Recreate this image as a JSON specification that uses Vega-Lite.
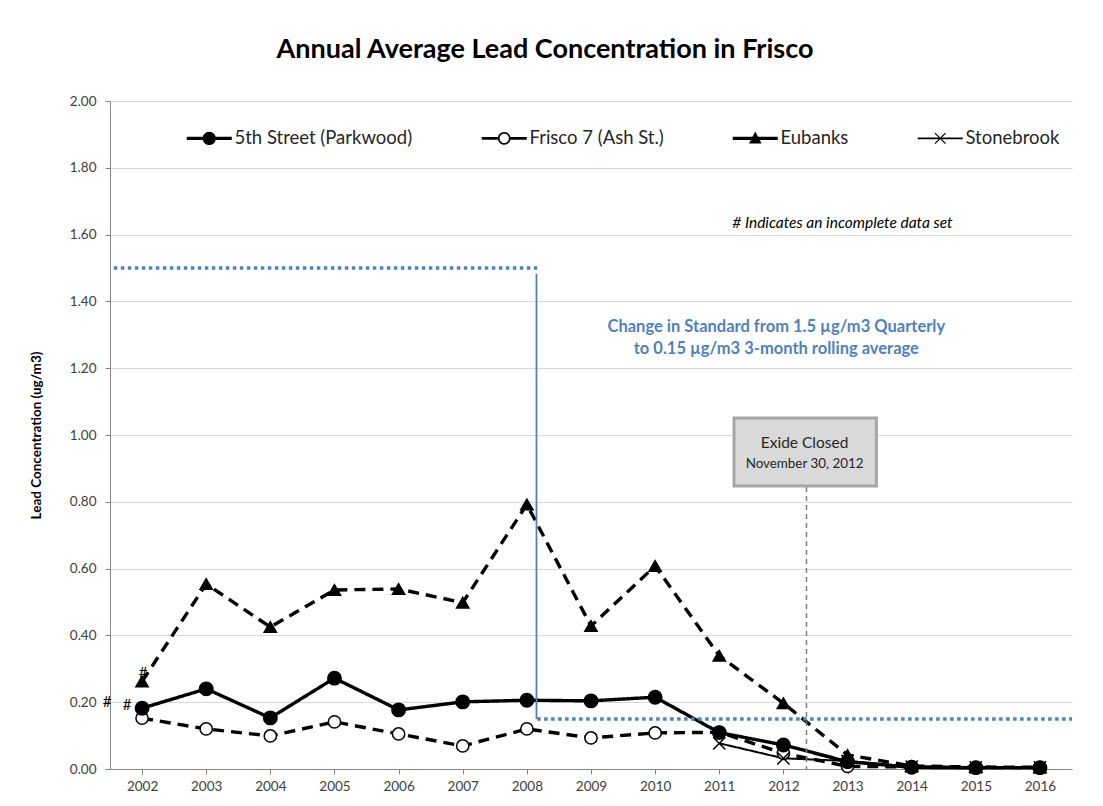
{
  "$schema": "https://vega.github.io/schema/vega-lite/v6.json",
  "width": 962,
  "height": 668,
  "autosize": {"type": "none"},
  "padding": {"left": 110, "top": 101, "right": 31, "bottom": 37},
  "background": "white",
  "title": {
    "text": "Annual Average Lead Concentration in Frisco",
    "font": "Lato",
    "fontSize": 27,
    "fontWeight": "bold",
    "color": "#000000",
    "anchor": "middle",
    "dx": -46,
    "offset": 30
  },
  "config": {
    "font": "Lato",
    "view": {"stroke": null},
    "axisX": {
      "tickBand": "extent",
      "grid": false,
      "domainColor": "#868686",
      "tickColor": "#868686",
      "tickSize": 5,
      "labelFontSize": 13.5,
      "labelColor": "#404040",
      "labelPadding": 5,
      "labelAngle": 0
    },
    "axisY": {
      "gridColor": "#d9d9d9",
      "domainColor": "#868686",
      "tickColor": "#868686",
      "tickSize": 5,
      "labelFontSize": 13.5,
      "labelColor": "#404040",
      "labelPadding": 9,
      "titleFontSize": 13.5,
      "titleFontWeight": "bold",
      "titleColor": "#000000",
      "titlePadding": 26
    }
  },
  "resolve": {"scale": {"x": "independent"}},
  "layer": [
    {
      "data": {
        "values": [
          {"year": "2002", "series": "Frisco 7 (Ash St.)", "value": 0.152},
          {"year": "2003", "series": "Frisco 7 (Ash St.)", "value": 0.120},
          {"year": "2004", "series": "Frisco 7 (Ash St.)", "value": 0.099},
          {"year": "2005", "series": "Frisco 7 (Ash St.)", "value": 0.141},
          {"year": "2006", "series": "Frisco 7 (Ash St.)", "value": 0.105},
          {"year": "2007", "series": "Frisco 7 (Ash St.)", "value": 0.069},
          {"year": "2008", "series": "Frisco 7 (Ash St.)", "value": 0.120},
          {"year": "2009", "series": "Frisco 7 (Ash St.)", "value": 0.093},
          {"year": "2010", "series": "Frisco 7 (Ash St.)", "value": 0.108},
          {"year": "2011", "series": "Frisco 7 (Ash St.)", "value": 0.110},
          {"year": "2012", "series": "Frisco 7 (Ash St.)", "value": 0.047},
          {"year": "2013", "series": "Frisco 7 (Ash St.)", "value": 0.008},
          {"year": "2014", "series": "Frisco 7 (Ash St.)", "value": 0.006},
          {"year": "2015", "series": "Frisco 7 (Ash St.)", "value": 0.004},
          {"year": "2016", "series": "Frisco 7 (Ash St.)", "value": 0.004},
          {"year": "2002", "series": "Eubanks", "value": 0.262},
          {"year": "2003", "series": "Eubanks", "value": 0.554},
          {"year": "2004", "series": "Eubanks", "value": 0.425},
          {"year": "2005", "series": "Eubanks", "value": 0.536},
          {"year": "2006", "series": "Eubanks", "value": 0.539},
          {"year": "2007", "series": "Eubanks", "value": 0.498},
          {"year": "2008", "series": "Eubanks", "value": 0.792},
          {"year": "2009", "series": "Eubanks", "value": 0.428},
          {"year": "2010", "series": "Eubanks", "value": 0.608},
          {"year": "2011", "series": "Eubanks", "value": 0.339},
          {"year": "2012", "series": "Eubanks", "value": 0.197},
          {"year": "2013", "series": "Eubanks", "value": 0.042},
          {"year": "2014", "series": "Eubanks", "value": 0.009},
          {"year": "2015", "series": "Eubanks", "value": 0.006},
          {"year": "2016", "series": "Eubanks", "value": 0.005},
          {"year": "2011", "series": "Stonebrook", "value": 0.077},
          {"year": "2012", "series": "Stonebrook", "value": 0.032},
          {"year": "2013", "series": "Stonebrook", "value": 0.024},
          {"year": "2014", "series": "Stonebrook", "value": 0.007},
          {"year": "2015", "series": "Stonebrook", "value": 0.005},
          {"year": "2016", "series": "Stonebrook", "value": 0.005},
          {"year": "2002", "series": "5th Street (Parkwood)", "value": 0.182},
          {"year": "2003", "series": "5th Street (Parkwood)", "value": 0.240},
          {"year": "2004", "series": "5th Street (Parkwood)", "value": 0.153},
          {"year": "2005", "series": "5th Street (Parkwood)", "value": 0.272},
          {"year": "2006", "series": "5th Street (Parkwood)", "value": 0.177},
          {"year": "2007", "series": "5th Street (Parkwood)", "value": 0.201},
          {"year": "2008", "series": "5th Street (Parkwood)", "value": 0.206},
          {"year": "2009", "series": "5th Street (Parkwood)", "value": 0.204},
          {"year": "2010", "series": "5th Street (Parkwood)", "value": 0.215},
          {"year": "2011", "series": "5th Street (Parkwood)", "value": 0.109},
          {"year": "2012", "series": "5th Street (Parkwood)", "value": 0.072},
          {"year": "2013", "series": "5th Street (Parkwood)", "value": 0.022},
          {"year": "2014", "series": "5th Street (Parkwood)", "value": 0.005},
          {"year": "2015", "series": "5th Street (Parkwood)", "value": 0.004},
          {"year": "2016", "series": "5th Street (Parkwood)", "value": 0.004}
        ]
      },
      "resolve": {"scale": {"shape": "independent"}},
      "layer": [
        {
          "mark": {"type": "line", "strokeCap": "butt", "strokeJoin": "round", "color": "#000000"},
          "encoding": {
            "x": {"field": "year", "type": "ordinal", "title": null,
                  "scale": {"domain": ["2002","2003","2004","2005","2006","2007","2008","2009","2010","2011","2012","2013","2014","2015","2016"], "paddingInner": 0, "paddingOuter": 0}},
            "y": {"field": "value", "type": "quantitative", "title": "Lead Concentration (ug/m3)",
                  "scale": {"domain": [0, 2], "nice": false},
                  "axis": {"values": [0,0.2,0.4,0.6,0.8,1,1.2,1.4,1.6,1.8,2], "format": ".2f"}},
            "detail": {"field": "series"},
            "strokeDash": {"condition": {"test": "datum.series === 'Frisco 7 (Ash St.)' || datum.series === 'Eubanks'", "value": [11, 7]}, "value": [1, 0]},
            "strokeWidth": {"condition": {"test": "datum.series === 'Stonebrook'", "value": 2}, "value": 3.4}
          }
        },
        {
          "mark": {"type": "point", "filled": true, "opacity": 1, "stroke": "#000000", "strokeWidth": 1.5},
          "encoding": {
            "x": {"field": "year", "type": "ordinal", "title": null,
                  "scale": {"domain": ["2002","2003","2004","2005","2006","2007","2008","2009","2010","2011","2012","2013","2014","2015","2016"], "paddingInner": 0, "paddingOuter": 0}},
            "y": {"field": "value", "type": "quantitative", "title": "Lead Concentration (ug/m3)"},
            "shape": {"field": "series", "type": "nominal", "legend": null,
                  "scale": {"domain": ["5th Street (Parkwood)", "Frisco 7 (Ash St.)", "Eubanks", "Stonebrook"], "range": ["circle", "circle", "triangle-up", "M-1,-1L1,1M1,-1L-1,1"]}},
            "fill": {"condition": {"test": "datum.series === 'Frisco 7 (Ash St.)'", "value": "#ffffff"}, "value": "#000000"},
            "size": {"condition": {"test": "datum.series === '5th Street (Parkwood)'", "value": 180}, "value": 150}
          }
        },
        {
          "transform": [{"filter": "false"}],
          "mark": {"type": "point", "filled": true, "opacity": 1, "fill": "#000000", "strokeWidth": 0},
          "encoding": {
            "x": {"field": "year", "type": "ordinal", "title": null,
                  "scale": {"domain": ["2002","2003","2004","2005","2006","2007","2008","2009","2010","2011","2012","2013","2014","2015","2016"], "paddingInner": 0, "paddingOuter": 0}},
            "y": {"field": "value", "type": "quantitative", "title": "Lead Concentration (ug/m3)"},
            "shape": {"field": "series", "type": "nominal",
                  "scale": {"domain": ["5th Street (Parkwood)", "Frisco 7 (Ash St.)", "Eubanks", "Stonebrook"],
                            "range": [
                              "M-3.75,-0.27H3.75V0.27H-3.75Z M1.1,0A1.1,1.1,0,1,1,-1.1,0A1.1,1.1,0,1,1,1.1,0Z",
                              "M-3.75,-0.24H-1.05V0.24H-3.75Z M1.05,-0.24H3.75V0.24H1.05Z M1.05,0A1.05,1.05,0,1,1,-1.05,0A1.05,1.05,0,1,1,1.05,0Z M0.77,0A0.77,0.77,0,1,0,-0.77,0A0.77,0.77,0,1,0,0.77,0Z",
                              "M-3.75,-0.27H3.75V0.27H-3.75Z M0,-1.15L1.05,0.85H-1.05Z",
                              "M-3.75,-0.16H3.75V0.16H-3.75Z M-0.95,-0.8L-0.8,-0.95L0.95,0.8L0.8,0.95Z M0.8,-0.95L0.95,-0.8L-0.8,0.95L-0.95,0.8Z"
                            ]},
                  "legend": {
                    "orient": "none",
                    "legendX": 90,
                    "legendY": 28,
                    "direction": "horizontal",
                    "title": null,
                    "padding": 0,
                    "labelFontSize": 18.5,
                    "labelColor": "#262626",
                    "labelLimit": 400,
                    "symbolSize": 144,
                    "symbolFillColor": "#000000",
                    "symbolStrokeWidth": 0,
                    "symbolOpacity": 1,
                    "labelOffset": 16,
                    "columnPadding": 68
                  }}
          }
        },
        {
          "data": {"values": [{"year": "2002", "value": 0.202, "label": "#"}]},
          "mark": {"type": "text", "fontSize": 15, "dx": -35, "baseline": "middle", "color": "#000000"},
          "encoding": {
            "x": {"field": "year", "type": "ordinal"},
            "y": {"field": "value", "type": "quantitative", "title": "Lead Concentration (ug/m3)"},
            "text": {"field": "label"}
          }
        },
        {
          "data": {"values": [{"year": "2002", "value": 0.191, "label": "#"}]},
          "mark": {"type": "text", "fontSize": 15, "dx": -15, "baseline": "middle", "color": "#000000"},
          "encoding": {
            "x": {"field": "year", "type": "ordinal"},
            "y": {"field": "value", "type": "quantitative", "title": "Lead Concentration (ug/m3)"},
            "text": {"field": "label"}
          }
        },
        {
          "data": {"values": [{"year": "2002", "value": 0.288, "label": "#"}]},
          "mark": {"type": "text", "fontSize": 15, "dx": 1, "baseline": "middle", "color": "#000000"},
          "encoding": {
            "x": {"field": "year", "type": "ordinal"},
            "y": {"field": "value", "type": "quantitative", "title": "Lead Concentration (ug/m3)"},
            "text": {"field": "label"}
          }
        }
      ]
    },
    {
      "layer": [
        {
          "data": {"values": [
            {"x": 2001.56, "x2": 2008.16, "y": 1.5},
            {"x": 2008.16, "x2": 2016.5, "y": 0.15}
          ]},
          "mark": {"type": "rule", "color": "#4F81BD", "strokeWidth": 3.5, "strokeDash": [3.5, 3.5]},
          "encoding": {
            "x": {"field": "x", "type": "quantitative", "scale": {"domain": [2001.5, 2016.5], "nice": false, "zero": false}, "axis": null},
            "x2": {"field": "x2"},
            "y": {"field": "y", "type": "quantitative", "title": "Lead Concentration (ug/m3)"}
          }
        },
        {
          "data": {"values": [{"x": 2008.15, "y": 1.483, "y2": 0.15}]},
          "mark": {"type": "rule", "color": "#4F81BD", "strokeWidth": 1.8},
          "encoding": {
            "x": {"field": "x", "type": "quantitative", "scale": {"domain": [2001.5, 2016.5], "nice": false, "zero": false}, "axis": null},
            "y": {"field": "y", "type": "quantitative", "title": "Lead Concentration (ug/m3)"},
            "y2": {"field": "y2"}
          }
        },
        {
          "data": {"values": [{"x": 2012.36, "y": 0.844, "y2": 0}]},
          "mark": {"type": "rule", "color": "#7f7f7f", "strokeWidth": 1.5, "strokeDash": [5, 4]},
          "encoding": {
            "x": {"field": "x", "type": "quantitative", "scale": {"domain": [2001.5, 2016.5], "nice": false, "zero": false}, "axis": null},
            "y": {"field": "y", "type": "quantitative", "title": "Lead Concentration (ug/m3)"},
            "y2": {"field": "y2"}
          }
        },
        {
          "data": {"values": [{"x": 2011.23, "x2": 2013.45, "y": 1.051, "y2": 0.847}]},
          "mark": {"type": "rect", "fill": "#d9d9d9", "stroke": "#a6a6a6", "strokeWidth": 3},
          "encoding": {
            "x": {"field": "x", "type": "quantitative", "scale": {"domain": [2001.5, 2016.5], "nice": false, "zero": false}, "axis": null},
            "x2": {"field": "x2"},
            "y": {"field": "y", "type": "quantitative", "title": "Lead Concentration (ug/m3)"},
            "y2": {"field": "y2"}
          }
        },
        {
          "data": {"values": [{"x": 2012.33, "y": 0.976, "t": "Exide Closed"}]},
          "mark": {"type": "text", "fontSize": 15.5, "color": "#262626", "align": "center", "baseline": "middle"},
          "encoding": {
            "x": {"field": "x", "type": "quantitative", "scale": {"domain": [2001.5, 2016.5], "nice": false, "zero": false}, "axis": null},
            "y": {"field": "y", "type": "quantitative", "title": "Lead Concentration (ug/m3)"},
            "text": {"field": "t"}
          }
        },
        {
          "data": {"values": [{"x": 2012.33, "y": 0.913, "t": "November 30, 2012"}]},
          "mark": {"type": "text", "fontSize": 13.4, "color": "#262626", "align": "center", "baseline": "middle"},
          "encoding": {
            "x": {"field": "x", "type": "quantitative", "scale": {"domain": [2001.5, 2016.5], "nice": false, "zero": false}, "axis": null},
            "y": {"field": "y", "type": "quantitative", "title": "Lead Concentration (ug/m3)"},
            "text": {"field": "t"}
          }
        },
        {
          "data": {"values": [
            {"x": 2011.89, "y": 1.323, "t": "Change in Standard from 1.5 µg/m3 Quarterly"},
            {"x": 2011.89, "y": 1.258, "t": "to 0.15 µg/m3 3-month rolling average"}
          ]},
          "mark": {"type": "text", "fontSize": 16.5, "fontWeight": "bold", "color": "#4F81BD", "align": "center", "baseline": "middle"},
          "encoding": {
            "x": {"field": "x", "type": "quantitative", "scale": {"domain": [2001.5, 2016.5], "nice": false, "zero": false}, "axis": null},
            "y": {"field": "y", "type": "quantitative", "title": "Lead Concentration (ug/m3)"},
            "text": {"field": "t"}
          }
        },
        {
          "data": {"values": [{"x": 2012.92, "y": 1.635, "t": "# Indicates an incomplete data set"}]},
          "mark": {"type": "text", "fontSize": 15.5, "fontStyle": "italic", "color": "#000000", "align": "center", "baseline": "middle"},
          "encoding": {
            "x": {"field": "x", "type": "quantitative", "scale": {"domain": [2001.5, 2016.5], "nice": false, "zero": false}, "axis": null},
            "y": {"field": "y", "type": "quantitative", "title": "Lead Concentration (ug/m3)"},
            "text": {"field": "t"}
          }
        }
      ]
    }
  ]
}
